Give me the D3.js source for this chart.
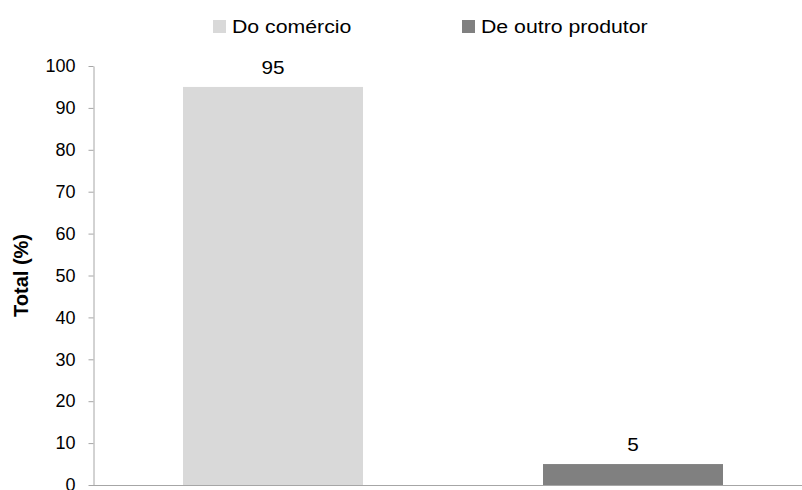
<!DOCTYPE html>
<html>
<head>
<meta charset="utf-8">
<script src="https://cdn.jsdelivr.net/npm/d3@7/dist/d3.min.js"></script>
<style>
  html, body { margin: 0; padding: 0; background: #fff; }
  svg { display: block; font-family: "Liberation Sans", Arial, sans-serif; }
</style>
</head>
<body>
<svg id="chart" width="802" height="490"></svg>
<script>
// Origem dos produtos (%)
const categories = ["Do comércio", "De outro produtor"];
const values = [95, 5];
const colors = ["#d9d9d9", "#808080"];
const yTicks = [0, 10, 20, 30, 40, 50, 60, 70, 80, 90, 100];
const yLabel = "Total (%)";

const svg = d3.select("#chart");
const margin = { left: 93, right: -11, top: 66, bottom: 5 };
const W = 802, H = 490;

const x = d3.scaleBand()
  .domain(categories)
  .range([margin.left, W - margin.right])
  .paddingInner(0.5)
  .paddingOuter(0.25);

const y = d3.scaleLinear()
  .domain([0, 100])
  .range([H - margin.bottom, margin.top]);

const axisColor = "#a6a6a6";

// Bars
svg.append("g").selectAll("rect")
  .data(values)
  .join("rect")
  .attr("x", (d, i) => x(categories[i]))
  .attr("width", x.bandwidth())
  .attr("y", d => y(d))
  .attr("height", d => y(0) - y(d))
  .attr("fill", (d, i) => colors[i]);

// Value labels (slightly widened glyphs)
svg.append("g").selectAll("text")
  .data(values)
  .join("text")
  .attr("transform", (d, i) =>
    `translate(${x(categories[i]) + x.bandwidth() / 2},${y(d) - 13}) scale(1.15,1)`)
  .attr("text-anchor", "middle")
  .attr("font-size", 18)
  .attr("fill", "#000")
  .text(d => d);

// Y axis
const yAxis = d3.axisLeft(y)
  .tickValues(yTicks)
  .tickSize(5)
  .tickPadding(13)
  .tickSizeOuter(0);
const gy = svg.append("g")
  .attr("transform", `translate(${margin.left + 0.5},0)`)
  .call(yAxis);
gy.select(".domain").attr("stroke", axisColor);
gy.selectAll(".tick line").attr("stroke", axisColor);
gy.selectAll(".tick text")
  .attr("font-size", 18)
  .attr("font-family", "Liberation Sans, Arial, sans-serif")
  .attr("fill", "#000");

// X baseline
svg.append("line")
  .attr("x1", margin.left)
  .attr("x2", W)
  .attr("y1", y(0) + 0.5)
  .attr("y2", y(0) + 0.5)
  .attr("stroke", axisColor);

// Y axis title
svg.append("text")
  .attr("transform", `translate(28,${(y(0) + y(100)) / 2}) rotate(-90)`)
  .attr("text-anchor", "middle")
  .attr("font-size", 20)
  .attr("font-weight", "bold")
  .attr("fill", "#000")
  .text(yLabel);

// Legend
const legendX = [213, 462];
const lg = svg.append("g").selectAll("g")
  .data(categories)
  .join("g")
  .attr("transform", (d, i) => `translate(${legendX[i]},20)`);
lg.append("rect")
  .attr("width", 13)
  .attr("height", 13)
  .attr("fill", (d, i) => colors[i]);
lg.append("text")
  .attr("transform", "translate(19,13) scale(1.12,1)")
  .attr("font-size", 19)
  .attr("fill", "#000")
  .text(d => d);
</script>
</body>
</html>
